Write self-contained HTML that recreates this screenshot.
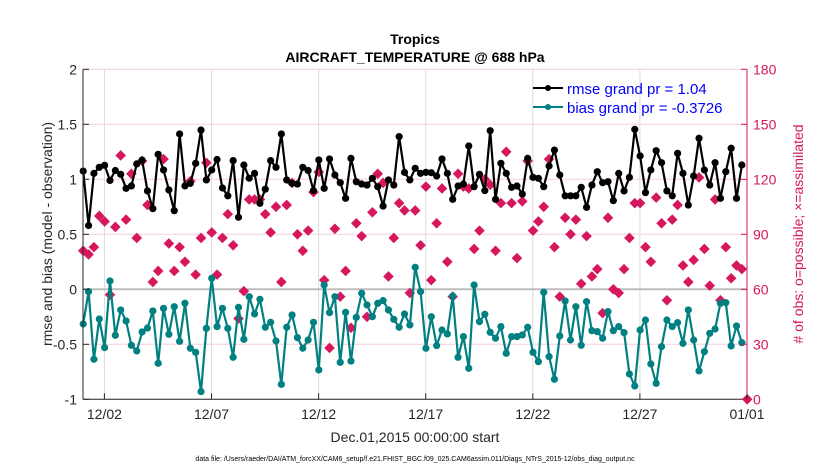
<!DOCTYPE html>
<html><head><meta charset="utf-8">
<style>
html,body{margin:0;padding:0;background:#fff;}
svg{display:block;font-family:"Liberation Sans",Arial,sans-serif;}
</style></head>
<body>
<svg id="chart" width="830" height="470" viewBox="0 0 830 470" xmlns="http://www.w3.org/2000/svg">
<rect x="0" y="0" width="830" height="470" fill="#fff"/>
<text x="415" y="44" text-anchor="middle" font-size="14" font-weight="bold">Tropics</text>
<text x="415" y="62" text-anchor="middle" font-size="14" font-weight="bold">AIRCRAFT_TEMPERATURE @ 688 hPa</text>
<g id="grid"></g>
<g id="marks"></g>
<g id="axes"></g>
<text transform="translate(52,234) rotate(-90)" text-anchor="middle" font-size="14" fill="#262626">rmse and bias (model - observation)</text>
<text transform="translate(803,234) rotate(-90)" text-anchor="middle" font-size="14" fill="#d6175e"># of obs: o=possible; ×=assimilated</text>
<text x="415" y="442" text-anchor="middle" font-size="14" fill="#262626">Dec.01,2015 00:00:00 start</text>
<text x="415" y="461" text-anchor="middle" font-size="7" fill="#000">data file: /Users/raeder/DAI/ATM_forcXX/CAM6_setup/f.e21.FHIST_BGC.f09_025.CAM6assim.011/Diags_NTrS_2015-12/obs_diag_output.nc</text>
<g>
  <g>
    <line x1="533" y1="88" x2="563" y2="88" stroke="#000" stroke-width="2"/>
    <circle cx="548" cy="88" r="3" fill="#000"/>
    <text x="567" y="94" font-size="15" fill="#0000ff">rmse grand pr = 1.04</text>
  </g>
  <g>
    <line x1="533" y1="107" x2="563" y2="107" stroke="#008080" stroke-width="2"/>
    <circle cx="548" cy="107" r="3" fill="#008080"/>
    <text x="567" y="113" font-size="15" fill="#0000ff">bias grand pr = -0.3726</text>
  </g>
</g>
</svg>
<script>
const rmse = [1.075,0.58,1.054,1.109,1.127,0.99,1.08,1.045,0.918,0.94,1.14,1.175,0.894,0.733,1.227,1.085,0.903,0.715,1.412,0.94,0.963,1.145,1.448,0.994,1.085,1.18,0.921,0.85,1.17,0.655,1.13,1.01,1.054,0.782,0.91,1.17,1.109,1.412,0.994,0.963,0.957,1.109,
1.08,0.897,1.176,0.918,1.185,1.039,0.969,0.827,1.19,0.978,0.957,0.948,1.009,0.933,0.757,0.994,0.948,1.388,1.063,0.994,1.1,1.054,1.063,1.06,1.03,1.185,1.054,0.818,0.939,0.957,1.303,0.933,1.045,0.897,1.442,0.818,1.145,1.054,0.927,0.939,0.866,
1.19,1.018,1.009,0.933,1.121,1.266,1.039,0.85,0.85,0.85,0.927,0.745,0.948,1.069,0.969,0.978,0.806,1.054,0.894,1.018,1.454,1.212,0.879,1.085,1.26,1.151,0.894,0.85,1.236,1.054,0.766,1.03,1.373,1.085,0.948,1.151,0.827,1.069,1.282,0.827,1.13];
const bias = [-0.315,-0.021,-0.636,-0.27,-0.53,0.076,-0.418,-0.188,-0.288,-0.509,-0.561,-0.388,-0.352,-0.197,-0.673,-0.173,-0.409,-0.158,-0.473,-0.127,-0.536,-0.573,-0.93,-0.355,0.1,-0.339,-0.173,-0.355,-0.618,-0.164,-0.455,-0.067,-0.224,-0.091,-0.345,-0.3,-0.47,-0.864,-0.345,-0.233,-0.439,-0.536,
-0.461,-0.3,-0.733,0.039,-0.212,-0.067,-0.664,-0.209,-0.652,-0.255,-0.036,-0.142,-0.249,-0.127,-0.103,-0.188,-0.273,-0.345,-0.224,-0.324,0.2,-0.021,-0.536,-0.249,-0.512,-0.37,-0.406,-0.061,-0.618,-0.43,-0.718,0.039,-0.294,-0.227,-0.391,-0.445,-0.339,-0.582,-0.43,-0.43,-0.415,
-0.345,-0.573,-0.658,-0.027,-0.612,-0.818,-0.424,-0.106,-0.461,-0.158,-0.509,-0.112,-0.376,-0.385,-0.445,-0.203,-0.376,-0.339,-0.394,-0.77,-0.879,-0.37,-0.279,-0.679,-0.855,-0.521,-0.279,-0.339,-0.303,-0.491,-0.188,-0.461,-0.742,-0.567,-0.4,-0.361,-0.127,-0.121,-0.515,-0.333,-0.485];
const nobs = [81,79,83,100,97,57,94,133,98,123,88,130,106,64,70,131,85,70,83,75,119,68,88,129,91,68,88,101,84,44,59,109,109,109,101,91,105,64,106,118,90,81,
92,113,124,65,28,93,56,70,39,96,89,45,102,123,118,67,88,107,103,58,103,84,116,65,96,115,75,56,123,116,115,82,92,120,117,81,107,135,107,77,108,
130,92,97,105,131,83,56,99,90,98,63,89,67,71,47,99,60,58,71,88,107,107,83,75,110,96,54,98,106,73,64,76,121,82,62,109,54,83,66,73,71,0];
const leftTicks = [-1,-0.5,0,0.5,1,1.5,2];
const leftTickLabels = ["-1","-0.5","0","0.5","1","1.5","2"];
const rightTicks = [0,30,60,90,120,150,180];
const xTickDays = [1,6,11,16,21,26,31];
const xTickLabels = ["12/02","12/07","12/12","12/17","12/22","12/27","01/01"];
const stepDays = 0.25;

const L=83, R=747, T=69.3, B=399.3;
const xScale = d => L + d*(R-L)/31;
const yL = v => B - (v+1)*(B-T)/3;
const yR = v => B - v*(B-T)/180;
const NS="http://www.w3.org/2000/svg";
function mk(tag, attrs, parent){const e=document.createElementNS(NS,tag);for(const k in attrs)e.setAttribute(k,attrs[k]);parent.appendChild(e);return e;}
const grid=document.getElementById('grid'), marks=document.getElementById('marks'), axes=document.getElementById('axes');

leftTicks.forEach(v=>{ if(v===0) return;
  const g=mk('line',{x1:L,x2:R,y1:yL(v),y2:yL(v),stroke:'#f6cfdc','stroke-width':1},grid);
  
  
});
xTickDays.forEach(d=>{
  const g=mk('line',{x1:xScale(d),x2:xScale(d),y1:T,y2:B,stroke:'#dcdcdc','stroke-width':1},grid);
  
  
});
const zl=mk('line',{x1:L,x2:R,y1:yL(0),y2:yL(0),stroke:'#bdbdbd','stroke-width':2},grid);



nobs.forEach((v,i)=>{
  const x=xScale(i*stepDays+0.01), y=yR(v), s=5.3;
  const p=mk('path',{d:`M${x},${y-s}L${x+s},${y}L${x},${y+s}L${x-s},${y}Z`,fill:'#d6175e'},marks);
  
  
});
function series(vals,color,name){
  const pts=vals.map((v,i)=>`${xScale(i*stepDays+0.01).toFixed(1)},${yL(v).toFixed(1)}`).join(' ');
  const pl=mk('polyline',{points:pts,fill:'none',stroke:color,'stroke-width':2.2,'stroke-linejoin':'round'},marks);
  
  
  vals.forEach((v,i)=>{
    const c=mk('circle',{cx:xScale(i*stepDays+0.01),cy:yL(v),r:3.6,fill:color},marks);
    
    
  });
}
series(rmse,'#000','rmse');
series(bias,'#008080','bias');

const la=mk('line',{x1:L,x2:L,y1:T,y2:B,stroke:'#262626','stroke-width':1},axes);


const ba=mk('line',{x1:L,x2:R,y1:B,y2:B,stroke:'#262626','stroke-width':1},axes);


const ra=mk('line',{x1:R,x2:R,y1:T,y2:B,stroke:'#d6175e','stroke-width':1},axes);


leftTicks.forEach((v,i)=>{
  mk('line',{x1:L,x2:L+6,y1:yL(v),y2:yL(v),stroke:'#262626'},axes);
  const t=mk('text',{x:L-6,y:yL(v)+5,'text-anchor':'end','font-size':14,fill:'#262626'},axes);
  t.textContent=leftTickLabels[i];
  
  
});
rightTicks.forEach(v=>{
  mk('line',{x1:R-6,x2:R,y1:yR(v),y2:yR(v),stroke:'#d6175e'},axes);
  const t=mk('text',{x:R+6,y:yR(v)+5,'text-anchor':'start','font-size':14,fill:'#d6175e'},axes);
  t.textContent=String(v);
  
  
});
xTickDays.forEach((d,i)=>{
  mk('line',{x1:xScale(d),x2:xScale(d),y1:B,y2:B-6,stroke:'#262626'},axes);
  const t=mk('text',{x:xScale(d),y:419,'text-anchor':'middle','font-size':14,fill:'#262626'},axes);
  t.textContent=xTickLabels[i];
  
  
});
</script>
</body></html>
